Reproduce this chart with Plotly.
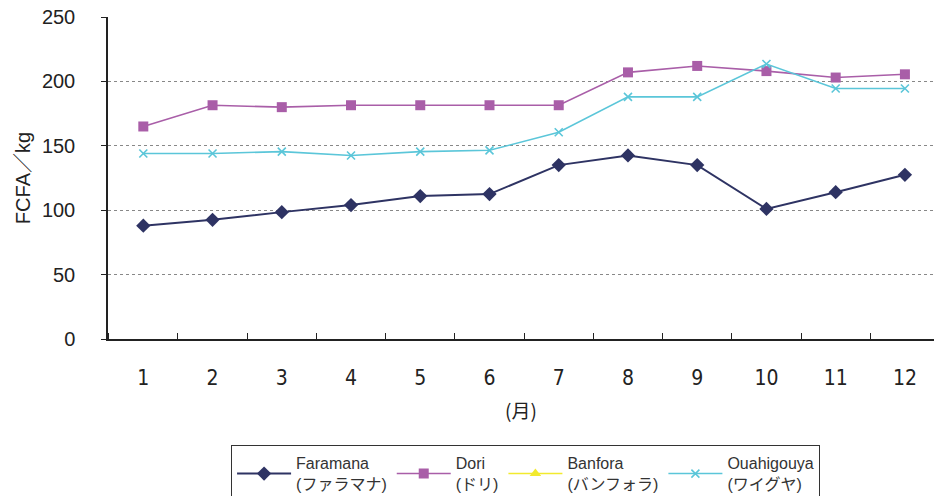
import plotly.graph_objects as go

months = list(range(1, 13))
month_labels = [str(m) for m in months]

faramana = [88, 92.5, 98.5, 104, 111, 112.5, 135, 142.5, 135, 101, 114, 127.5]
dori = [165, 181.5, 180, 181.5, 181.5, 181.5, 181.5, 207, 212, 208, 203, 205.5]
banfora = [None] * 12
ouahigouya = [144, 144, 145.5, 142.5, 145.5, 146.5, 160.5, 188, 188, 213.5, 194.5, 194.5]

series_names = [
    "Faramana<br>(ファラマナ)",
    "Dori<br>(ドリ)",
    "Banfora<br>(バンフォラ)",
    "Ouahigouya<br>(ワイグヤ)",
]

fig = go.Figure()

fig.add_trace(go.Scatter(
    x=months, y=faramana, name=series_names[0], mode="lines+markers",
    line=dict(color="#2E3363", width=2),
    marker=dict(symbol="diamond", size=11, color="#2E3363"),
))
fig.add_trace(go.Scatter(
    x=months, y=dori, name=series_names[1], mode="lines+markers",
    line=dict(color="#A95EA8", width=1.6),
    marker=dict(symbol="square", size=10, color="#A95EA8"),
))
fig.add_trace(go.Scatter(
    x=months, y=banfora, name=series_names[2], mode="lines+markers",
    line=dict(color="#F2EA2E", width=1.6),
    marker=dict(symbol="triangle-up", size=10, color="#F2EA2E"),
))
fig.add_trace(go.Scatter(
    x=months, y=ouahigouya, name=series_names[3], mode="lines+markers",
    line=dict(color="#5BC6D9", width=1.6),
    marker=dict(symbol="x-thin", size=8, line=dict(color="#5BC6D9", width=1.6)),
))

fig.update_layout(
    width=934, height=496,
    margin=dict(l=108, r=0, t=17, b=157, autoexpand=False),
    paper_bgcolor="white", plot_bgcolor="white",
    font=dict(family="Liberation Sans, Noto Sans CJK JP", color="#222222"),
    showlegend=True,
    legend=dict(
        orientation="h",
        x=0.149, xanchor="left",
        y=-0.33, yanchor="top",
        font=dict(size=16, family="Liberation Sans, Noto Sans CJK JP", color="#333333"),
        bordercolor="#333333", borderwidth=1,
        bgcolor="white",
        traceorder="normal",
        itemwidth=54,
    ),
)

fig.update_xaxes(
    range=[0.49, 12.42],
    tickmode="array", tickvals=months, ticktext=month_labels,
    ticks="", showgrid=False,
    tickfont=dict(size=21, family="DejaVu Sans Condensed, Liberation Sans", color="#222222"),
    ticklabelstandoff=19,
    showline=True, linecolor="#222222", linewidth=1.5,
    minor=dict(tick0=0.5, dtick=1, ticks="inside", ticklen=6, tickcolor="#222222", showgrid=False),
    title=dict(text="(月)", font=dict(size=19, family="Noto Sans CJK JP"), standoff=16),
    zeroline=False,
)

fig.update_yaxes(
    range=[0, 250], tickvals=[0, 50, 100, 150, 200, 250],
    ticks="outside", ticklen=5, tickcolor="#222222",
    tickfont=dict(size=20, family="Liberation Sans", color="#222222"),
    ticklabelstandoff=22,
    showline=True, linecolor="#222222", linewidth=1.5,
    showgrid=True, gridcolor="#888888", griddash="dot", gridwidth=1,
    title=dict(text="FCFA／kg", font=dict(size=20, family="Liberation Sans, Noto Sans CJK JP"), standoff=6),
    zeroline=False,
)

fig.write_html("out.html")
